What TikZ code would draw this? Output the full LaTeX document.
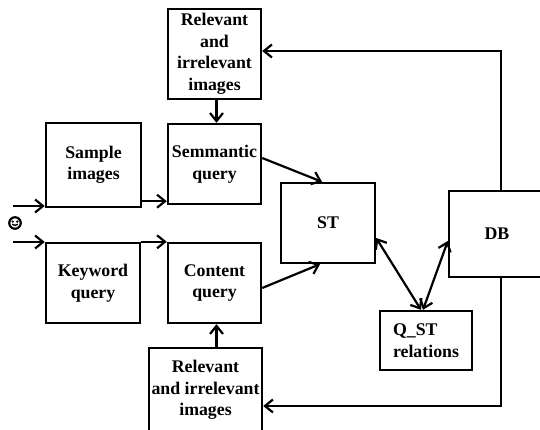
\documentclass[tikz,border=0pt]{standalone}
\usepackage{fontspec}
\setmainfont{Liberation Serif}
\usetikzlibrary{arrows.meta,calc}
\begin{document}
\begin{tikzpicture}[x=1pt,y=-1pt,
  box/.style={draw,line width=2.4pt,inner sep=0pt,align=center,
    font=\fontsize{17.8}{21.5}\selectfont\bfseries},
  conn/.style={line width=2.2pt,-{Straight Barb[length=8pt,width=13pt]}},
  biconn/.style={line width=2.2pt,{Straight Barb[length=8pt,width=13pt]}-{Straight Barb[length=8pt,width=13pt]}}]
\useasboundingbox (0,0) rectangle (540,430);
\clip (0,0) rectangle (540,430);
\node[box,minimum width=93pt,minimum height=90pt] (toprel) at (214.5,54) {Relevant\\and\\irrelevant\\images};
\node[box,minimum width=95pt,minimum height=84pt] (sample) at (93.5,165) {Sample\\images};
\node[box,minimum width=93pt,minimum height=80pt] (sem) at (214.5,164) {Semmantic\\query};
\node[box,minimum width=94pt,minimum height=80pt] (kw) at (93,283) {Keyword\\query};
\node[box,minimum width=93pt,minimum height=80pt] (content) at (214.5,283) {Content\\query};
\node[box,minimum width=113pt,minimum height=84pt] (botrel) at (205.5,390) {Relevant\\and irrelevant\\images};
\node[box,minimum width=94pt,minimum height=80pt] (st) at (328,223) {ST};
\node[box,minimum width=96pt,minimum height=86pt] (db) at (497,234) {DB};
\node[box,minimum width=92pt,minimum height=59pt,align=left] (qst) at (426,340.5) {Q\_ST\\relations};
% user symbol
\node[circle,draw,line width=2.2pt,minimum size=11.5pt,inner sep=0pt] (user) at (15,223) {};
\fill ([shift={(-2.3pt,1.4pt)}]user.center) circle (1.3pt);
\fill ([shift={(2.3pt,1.4pt)}]user.center) circle (1.3pt);
\draw[line width=1.4pt] ([shift={(-2.8pt,-1.2pt)}]user.center) to[bend right=50] ([shift={(2.8pt,-1.2pt)}]user.center);
\coordinate (in1) at (13,206);
\coordinate (in2) at (13,242);
% connectors
\draw[conn] (in1) -- (in1 -| sample.west);
\draw[conn] (in2) -- (in2 -| kw.west);
\draw[conn] (kw.north east) -- (content.north west);
\draw[conn] ([yshift=7pt]sample.south east) -- ([yshift=7pt]sample.south east -| sem.west);
\draw[conn] ([xshift=2pt]toprel.south) -- ([xshift=2pt]sem.north);
\draw[conn] ([xshift=2pt]content.south |- botrel.north) -- ([xshift=2pt]content.south);
\draw[conn] ([yshift=6pt]sem.east) -- ([xshift=-6pt]st.north);
\draw[conn] ([yshift=-5pt]content.east) -- ([xshift=-8pt]st.south);
\draw[biconn] ([yshift=-15pt]st.east) -- ([xshift=-5pt]qst.north);
\draw[biconn] ([yshift=-7pt]db.west) -- ([xshift=-3pt]qst.north);
\draw[conn] ([xshift=4pt]db.north) |- ([yshift=3pt]toprel.east);
\draw[conn] ([xshift=4pt]db.south) |- ([yshift=-16pt]botrel.east);
\end{tikzpicture}
\end{document}
